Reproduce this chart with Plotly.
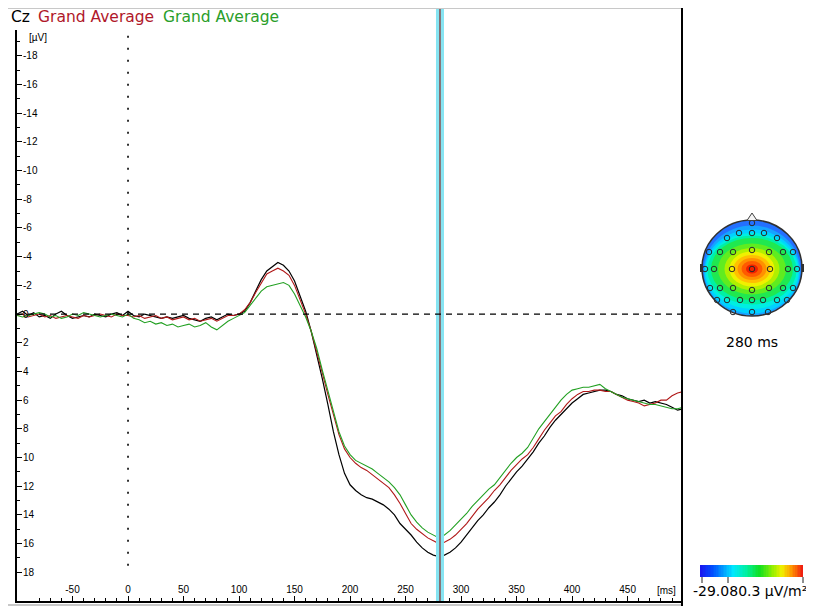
import plotly.graph_objects as go

# ---------------- data ----------------
time_ms = list(range(-100, 505, 5))

cz_black = [0.0, -0.2, 0.1, -0.1, 0.2, 0.1, 0.3, 0.0, -0.2, 0.1,
            0.3, 0.2, 0.1, 0.2, 0.0, 0.1, 0.2, 0.0, -0.1, 0.1,
            -0.2, 0.1, 0.2, 0.0, 0.1, 0.2, 0.3, 0.2, 0.3, 0.2,
            0.1, 0.3, 0.4, 0.5, 0.3, 0.2, 0.4, 0.2, 0.0, 0.1,
            0.0, -0.2, -0.8, -1.6, -2.4, -3.0, -3.3, -3.6, -3.4, -3.0,
            -2.3, -1.3, -0.2, 1.2, 2.8, 4.5, 6.3, 8.2, 9.8, 11.1,
            11.9, 12.3, 12.6, 12.8, 12.9, 13.1, 13.3, 13.6, 14.0, 14.6,
            15.0, 15.4, 15.9, 16.3, 16.6, 16.8, 16.9, 16.8, 16.6, 16.3,
            15.9, 15.4, 14.9, 14.4, 14.0, 13.5, 13.1, 12.6, 12.0, 11.5,
            11.0, 10.6, 10.1, 9.6, 9.0, 8.5, 7.9, 7.4, 7.0, 6.6,
            6.2, 5.9, 5.6, 5.5, 5.4, 5.3, 5.3, 5.4, 5.6, 5.7,
            5.9, 6.0, 6.1, 6.0, 6.2, 6.1, 6.2, 6.3, 6.5, 6.7, 6.6]

cz_red = [0.1, 0.0, 0.2, 0.1, 0.0, 0.2, 0.1, 0.3, 0.2, 0.1,
          0.2, 0.3, 0.1, 0.2, 0.1, 0.0, 0.1, 0.2, 0.0, 0.1,
          0.1, 0.2, 0.1, 0.3, 0.2, 0.1, 0.3, 0.2, 0.4, 0.3,
          0.2, 0.4, 0.3, 0.5, 0.4, 0.3, 0.5, 0.3, 0.1, 0.1,
          0.0, -0.3, -0.8, -1.5, -2.2, -2.8, -3.0, -3.2, -3.0, -2.7,
          -2.0, -1.0, 0.0, 1.2, 2.6, 4.1, 5.6, 7.1, 8.4, 9.4,
          10.0, 10.4, 10.7, 10.9, 11.2, 11.5, 11.8, 12.1, 12.6, 13.2,
          13.9, 14.6, 15.0, 15.3, 15.6, 15.8, 16.0, 15.9, 15.7, 15.4,
          15.0, 14.6, 14.1, 13.6, 13.2, 12.8, 12.3, 11.9, 11.4, 10.9,
          10.5, 10.1, 9.8, 9.3, 8.7, 8.1, 7.6, 7.1, 6.8, 6.3,
          5.9, 5.6, 5.4, 5.4, 5.3, 5.3, 5.4, 5.4, 5.6, 5.8,
          6.0, 6.1, 6.2, 6.4, 6.3, 6.2, 6.0, 6.0, 5.7, 5.5, 5.4]

cz_green = [0.1, 0.2, 0.1, 0.0, -0.1, 0.0, 0.2, 0.1, 0.3, 0.2,
            0.0, 0.1, -0.1, 0.0, 0.1, 0.2, 0.1, 0.0, 0.1, 0.2,
            0.0, 0.3, 0.4, 0.6, 0.5, 0.7, 0.6, 0.8, 0.7, 0.9,
            0.8, 0.7, 0.9, 0.8, 0.6, 0.9, 1.1, 0.8, 0.5, 0.3,
            0.1, -0.1, -0.6, -1.1, -1.6, -1.9, -2.0, -2.1, -2.2, -2.0,
            -1.4, -0.6, 0.2, 1.2, 2.4, 3.9, 5.4, 6.9, 8.2, 9.2,
            9.8, 10.2, 10.4, 10.6, 10.8, 11.1, 11.4, 11.7, 12.1, 12.6,
            13.3, 14.0, 14.5, 14.9, 15.2, 15.4, 15.6, 15.4, 15.1, 14.7,
            14.3, 13.9, 13.4, 13.0, 12.6, 12.2, 11.9, 11.4, 10.9, 10.4,
            10.0, 9.7, 9.3, 8.6, 8.0, 7.5, 7.0, 6.5, 6.0, 5.6,
            5.3, 5.2, 5.1, 5.1, 5.0, 4.9, 5.2, 5.4, 5.6, 5.8,
            5.9, 6.0, 6.1, 6.2, 6.3, 6.3, 6.4, 6.5, 6.6, 6.6, 6.5]

y_tick_vals = list(range(-18, 20, 2))
y_tick_text = [str(v) for v in y_tick_vals]
x_tick_vals = list(range(-50, 500, 50))
x_tick_text = [str(v) for v in x_tick_vals]

channel_name = "Cz"
series_names = ["Grand Average", "Grand Average"]
cursor_ms = 281
topo_label = "280 ms"
scale_label = "-29.080.3 µV/m²"

# electrode positions on the head map (normalised head coordinates)
elec_x = [0.0,
          -0.26, 0.0, 0.24,
          -0.50, 0.50,
          -0.86, -0.64, -0.38, 0.0, 0.34, 0.62, 0.82,
          -0.94, -0.76, -0.40, 0.0, 0.36, 0.72, 0.90,
          -0.84, -0.64, -0.38, 0.0, 0.34, 0.62, 0.82,
          -0.70, -0.50, -0.24, 0.0, 0.22, 0.50, 0.70,
          -0.38, 0.0, 0.32]
elec_y = [0.90,
          0.70, 0.70, 0.70,
          0.60, 0.60,
          0.32, 0.32, 0.32, 0.36, 0.32, 0.32, 0.32,
          -0.02, -0.02, -0.02, -0.02, -0.02, -0.02, -0.02,
          -0.40, -0.40, -0.40, -0.44, -0.40, -0.40, -0.40,
          -0.64, -0.64, -0.64, -0.64, -0.64, -0.64, -0.64,
          -0.88, -0.88, -0.88]

# ---------------- figure ----------------
# the page body adds an 8px margin, so the figure is 806x602 and
# window pixel positions are converted accordingly
OFF = 8
W, H = 814 - OFF, 610 - OFF
def px(x):
    return min(max((x - OFF) / W, 0), 1)
def py(y):
    return min(max(1 - (y - OFF) / H, 0), 1)

fig = go.Figure()

fig.add_trace(go.Scatter(x=time_ms, y=cz_black, mode="lines",
                         line=dict(color="#000000", width=1.2), showlegend=False))
fig.add_trace(go.Scatter(x=time_ms, y=cz_red, mode="lines",
                         line=dict(color="#b01818", width=1.1), showlegend=False))
fig.add_trace(go.Scatter(x=time_ms, y=cz_green, mode="lines",
                         line=dict(color="#22a022", width=1.1), showlegend=False))

# electrodes on topomap
fig.add_trace(go.Scatter(x=elec_x, y=elec_y, mode="markers", xaxis="x2", yaxis="y2",
                         marker=dict(symbol="circle-open", size=5.5,
                                     color="#2a2a2a", line=dict(width=1, color="#2a2a2a")),
                         showlegend=False, hoverinfo="skip"))

# colour scale bar
bar_scale = [[0.0, "#1818f0"], [0.12, "#0050ff"], [0.32, "#00e8ff"], [0.45, "#00f0a0"],
             [0.58, "#10e020"], [0.72, "#a0f000"], [0.80, "#f0f000"], [0.90, "#ff9000"],
             [1.0, "#f02010"]]
fig.add_trace(go.Heatmap(z=[list(range(64))], xaxis="x3", yaxis="y3",
                         colorscale=bar_scale, showscale=False, hoverinfo="skip"))

shapes = []
# cursor band
shapes.append(dict(type="rect", xref="x", yref="paper", x0=cursor_ms - 3.6, x1=cursor_ms + 3.6,
                   y0=py(601), y1=py(7), fillcolor="#86e4f2", line=dict(width=0), layer="above"))
shapes.append(dict(type="line", xref="x", yref="paper", x0=cursor_ms, x1=cursor_ms,
                   y0=py(601), y1=py(7), line=dict(color="#8a4a4a", width=1.5), layer="above"))
# zero dashed line
shapes.append(dict(type="line", xref="x", yref="y", x0=-100, x1=499, y0=0, y1=0,
                   line=dict(color="#000000", width=1.2, dash="6px,5px"), layer="above"))
# dotted stimulus line
shapes.append(dict(type="line", xref="x", yref="y", x0=0, x1=0, y0=-19.4, y1=17.8,
                   line=dict(color="#000000", width=1.6, dash="2px,10px"), layer="above"))
# frame lines
shapes.append(dict(type="line", xref="paper", yref="paper", x0=0, x1=px(682), y0=py(8), y1=py(8),
                   line=dict(color="#c8c8c8", width=2)))
shapes.append(dict(type="line", xref="paper", yref="paper", x0=0, x1=px(682), y0=py(605), y1=py(605),
                   line=dict(color="#c8c8c8", width=2)))
shapes.append(dict(type="line", xref="paper", yref="paper", x0=px(682), x1=px(682), y0=py(606), y1=py(6),
                   line=dict(color="#000000", width=2)))

# topomap: head with layered colour field
layers = [
    (1.00, 0.96, 0.00, "#2470ff"),
    (0.97, 0.90, -0.05, "#16a4ff"),
    (0.95, 0.84, -0.07, "#00d2ff"),
    (0.93, 0.76, -0.06, "#00eee2"),
    (0.89, 0.69, -0.04, "#00f0a4"),
    (0.82, 0.62, -0.02, "#20e850"),
    (0.68, 0.51, -0.02, "#60ec20"),
    (0.55, 0.42, -0.02, "#b0f000"),
    (0.45, 0.35, -0.02, "#f0f000"),
    (0.37, 0.28, -0.02, "#ffc000"),
    (0.29, 0.22, -0.02, "#ff9000"),
    (0.21, 0.16, -0.02, "#ff5a00"),
    (0.12, 0.09, -0.02, "#f02000"),
]
for rx, ry, cy, col in layers:
    shapes.append(dict(type="circle", xref="x2", yref="y2", x0=-rx, x1=rx, y0=cy - ry, y1=cy + ry,
                       fillcolor=col, line=dict(width=0), layer="below"))
shapes.append(dict(type="circle", xref="x2", yref="y2", x0=-1.0, x1=1.0, y0=-0.96, y1=0.96,
                   line=dict(color="#303030", width=1.5), layer="above"))
# nose
shapes.append(dict(type="path", xref="x2", yref="y2", path="M -0.1 0.95 L 0 1.1 L 0.1 0.95 Z",
                   fillcolor="#f4f4f4", line=dict(color="#404040", width=1)))
# ears
shapes.append(dict(type="rect", xref="x2", yref="y2", x0=-1.04, x1=-0.99, y0=-0.08, y1=0.08,
                   fillcolor="#303030", line=dict(width=0)))
shapes.append(dict(type="rect", xref="x2", yref="y2", x0=0.99, x1=1.04, y0=-0.08, y1=0.08,
                   fillcolor="#303030", line=dict(width=0)))
# colour bar ticks
for xx in (702, 728, 803):
    shapes.append(dict(type="line", xref="paper", yref="paper", x0=px(xx), x1=px(xx),
                       y0=py(583), y1=py(577), line=dict(color="#202020", width=1)))

title_font = dict(family="DejaVu Sans", size=15.5)
annotations = [
    dict(text=channel_name, xref="paper", yref="paper", x=px(9), y=py(17), xanchor="left",
         yanchor="middle", showarrow=False, font=dict(color="#000000", **title_font)),
    dict(text=series_names[0], xref="paper", yref="paper", x=px(36), y=py(17), xanchor="left",
         yanchor="middle", showarrow=False, font=dict(color="#b0182a", **title_font)),
    dict(text=series_names[1], xref="paper", yref="paper", x=px(161), y=py(17), xanchor="left",
         yanchor="middle", showarrow=False, font=dict(color="#2a9e2a", **title_font)),
    dict(text="[µV]", xref="paper", yref="paper", x=px(27), y=py(37), xanchor="left",
         yanchor="middle", showarrow=False, font=dict(family="Liberation Sans", size=10, color="#000")),
    dict(text="[ms]", xref="paper", yref="paper", x=px(666), y=py(590), xanchor="center",
         yanchor="middle", showarrow=False, font=dict(family="Liberation Sans", size=10, color="#000")),
    dict(text=topo_label, xref="paper", yref="paper", x=px(752), y=py(342), xanchor="center",
         yanchor="middle", showarrow=False, font=dict(family="DejaVu Sans", size=14, color="#000")),
    dict(text=scale_label, xref="paper", yref="paper", x=px(750), y=py(591), xanchor="center",
         yanchor="middle", showarrow=False, font=dict(family="DejaVu Sans", size=14, color="#000")),
]

axis_font = dict(family="Liberation Sans", size=10, color="#000")
fig.update_layout(
    width=W, height=H, margin=dict(l=0, r=0, t=0, b=0),
    paper_bgcolor="white", plot_bgcolor="white",
    showlegend=False,
    shapes=shapes, annotations=annotations,
    xaxis=dict(domain=[px(17), px(682)], range=[-100, 499], anchor="y",
               tickvals=x_tick_vals, ticktext=x_tick_text,
               ticks="inside", ticklen=5, tickwidth=1, tickcolor="#000",
               ticklabelposition="inside", tickfont=axis_font,
               minor=dict(dtick=10, tick0=0, ticks="inside", ticklen=3, tickcolor="#000"),
               showline=True, linecolor="#000", linewidth=2, showgrid=False, zeroline=False),
    yaxis=dict(domain=[py(601), py(30)], range=[20.0, -19.8], anchor="x",
               tickvals=y_tick_vals, ticktext=y_tick_text,
               ticks="inside", ticklen=5, tickwidth=1, tickcolor="#000",
               ticklabelposition="inside", tickfont=axis_font,
               minor=dict(dtick=1, tick0=0, ticks="inside", ticklen=3, tickcolor="#000"),
               showline=True, linecolor="#000", linewidth=2, showgrid=False, zeroline=False),
    xaxis2=dict(domain=[px(692), px(812)], range=[-1.2, 1.2], anchor="y2", visible=False),
    yaxis2=dict(domain=[py(328), py(208)], range=[-1.2, 1.2], anchor="x2", visible=False),
    xaxis3=dict(domain=[px(700), px(803)], anchor="y3", visible=False),
    yaxis3=dict(domain=[py(577), py(565)], anchor="x3", visible=False),
)

fig.write_html("out.html")
